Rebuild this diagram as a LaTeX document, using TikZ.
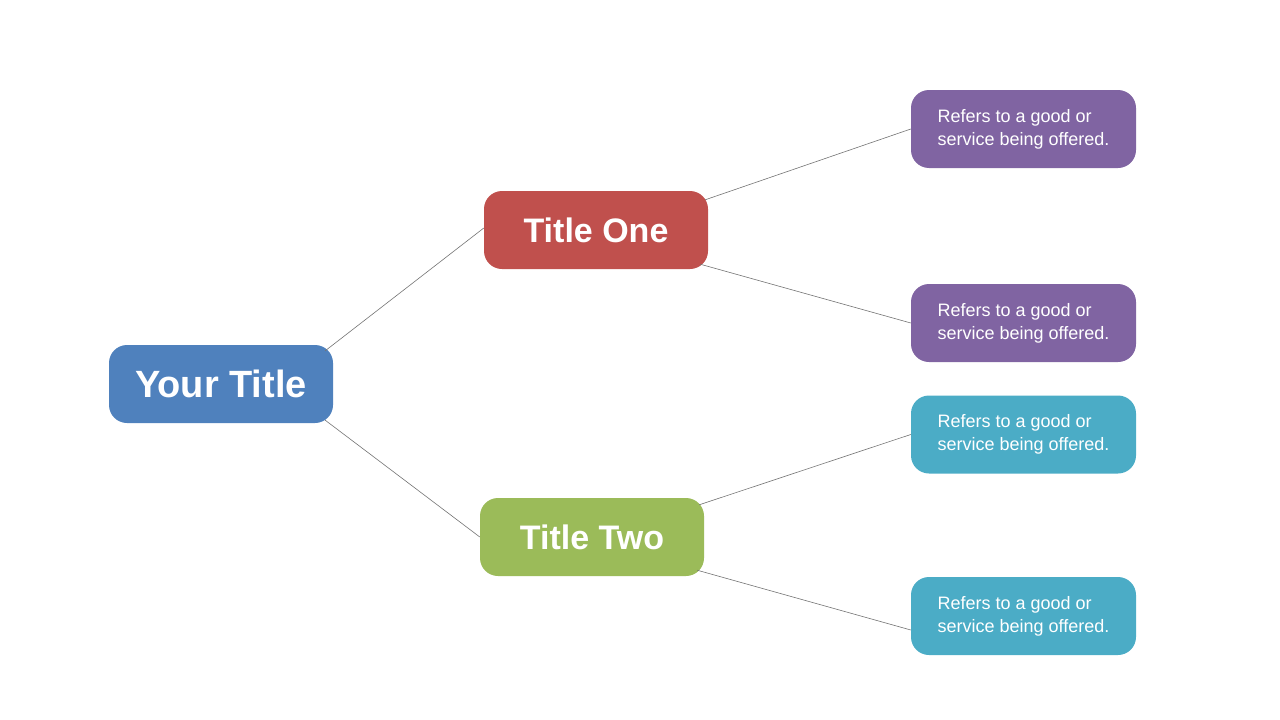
\documentclass[tikz,border=0pt]{standalone}
\usepackage{fontspec}
\setmainfont{Liberation Sans}
\begin{document}
\begin{tikzpicture}[x=1pt,y=-1pt,
  box/.style={rounded corners=18pt,minimum width=224pt,minimum height=78pt,inner sep=0pt,text=white},
  big/.style={box,font=\fontsize{38}{40}\selectfont\bfseries},
  mid/.style={box,font=\fontsize{34}{36}\selectfont\bfseries},
  small/.style={box,minimum width=225pt,font=\fontsize{18}{23}\selectfont,align=left},
  con/.style={draw=gray!90!black,line width=0.6pt}]
\useasboundingbox (0,0) rectangle (1280,720);
\node[big,fill={rgb,255:red,79;green,129;blue,189}] (yt) at (221,384) {Your Title};
\node[mid,fill={rgb,255:red,192;green,80;blue,77}] (t1) at (596,230) {Title One};
\node[mid,fill={rgb,255:red,155;green,187;blue,89}] (t2) at (592,537) {Title Two};
\node[small,fill={rgb,255:red,128;green,100;blue,162}] (p1) at (1023.5,129) {Refers to a good or\\service being offered.};
\node[small,fill={rgb,255:red,128;green,100;blue,162}] (p2) at (1023.5,323) {Refers to a good or\\service being offered.};
\node[small,fill={rgb,255:red,75;green,172;blue,198}] (c1) at (1023.5,434.5) {Refers to a good or\\service being offered.};
\node[small,fill={rgb,255:red,75;green,172;blue,198}] (c2) at (1023.5,616) {Refers to a good or\\service being offered.};
\draw[con] ([xshift=-8pt,yshift=-6pt]yt.north east) -- ([yshift=2pt]t1.west);
\draw[con] ([xshift=-8pt,yshift=3pt]yt.south east) -- (t2.west);
\draw[con] ([xshift=-3pt,yshift=-9pt]t1.north east) -- (p1.west);
\draw[con] ([xshift=-8pt,yshift=5pt]t1.south east) -- (p2.west);
\draw[con] ([xshift=-5pt,yshift=-7pt]t2.north east) -- (c1.west);
\draw[con] ([xshift=-7pt,yshift=6pt]t2.south east) -- ([yshift=-14pt]c2.west);
\end{tikzpicture}
\end{document}
